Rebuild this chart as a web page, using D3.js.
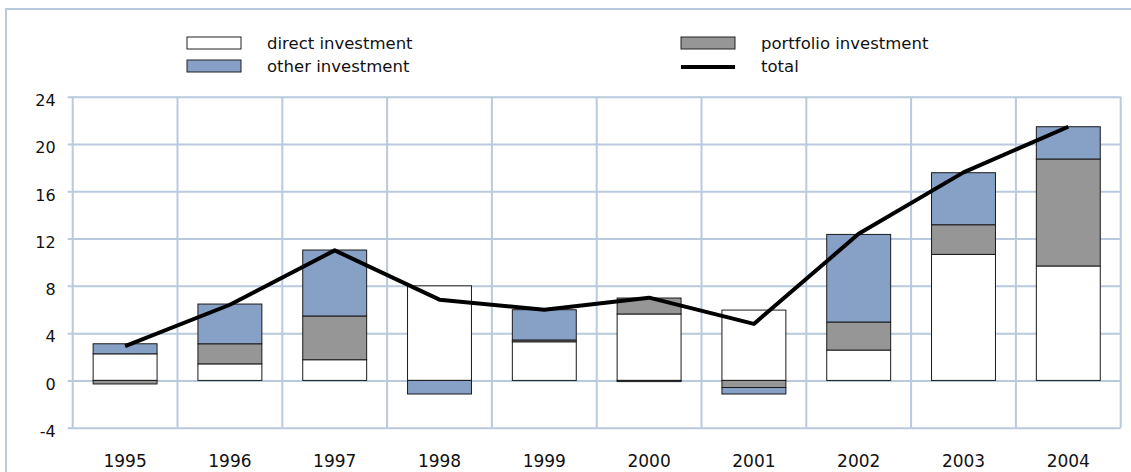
<!DOCTYPE html>
<html>
<head>
<meta charset="utf-8">
<script src="https://cdn.jsdelivr.net/npm/d3@7"></script>
<style>
  body { margin: 0; background: #fff; }
  text { font-family: "DejaVu Sans", sans-serif; fill: #111; }
</style>
</head>
<body>
<div class="canva"></div>
<script>
// data
const years = ['1995','1996','1997','1998','1999','2000','2001','2002','2003','2004'];
const direct    = [2.25, 1.4, 1.75, 8.0, 3.27, 5.62, 5.95, 2.57, 10.66, 9.68];
const portfolio = [-0.3, 1.7, 3.7, 0, 0.15, 1.35, -0.6, 2.37, 2.51, 9.05];
const other     = [0.85, 3.36, 5.58, -1.15, 2.56, -0.1, -0.55, 7.41, 4.4, 2.73];
const total     = [2.9, 6.4, 11.0, 6.83, 5.97, 7.0, 4.78, 12.4, 17.6, 21.46];
const yTicks = [-4, 0, 4, 8, 12, 16, 20, 24];

const keys = ['direct', 'portfolio', 'other'];
const colors = { direct: '#ffffff', portfolio: '#969696', other: '#86a0c6' };
const gridColor = '#b9c9de';

const canvas = d3.select('.canva');
const svg = canvas.append('svg')
      .attr('width', 1131)
      .attr('height', 472);

// outer frame (top + left)
svg.append('path')
   .attr('d', 'M6,472 V9 H1131')
   .attr('fill', 'none')
   .attr('stroke', gridColor)
   .attr('stroke-width', 2);

const margin = { top: 96.7, left: 72.7, right: 10.3, bottom: 45 };
const graphWidth = 1131 - margin.left - margin.right;

const graph = svg.append('g')
      .attr('transform', `translate(${margin.left}, ${margin.top})`);

const y = d3.scaleLinear()
      .domain([-4, 24])
      .range([331, 0]);

const x = d3.scaleBand()
      .domain(years)
      .range([0, graphWidth])
      .paddingInner(0.39)
      .paddingOuter(0.195);

const xGrid = d3.scaleBand().domain(years).range([0, graphWidth]);

// horizontal grid + y labels
const yAxis = d3.axisLeft(y)
      .tickValues(yTicks)
      .tickFormat(d => String(d))
      .tickSize(-graphWidth - 5)
      .tickSizeOuter(0);
const yAxisGroup = graph.append('g')
      .attr('transform', 'translate(-5,0)')
      .call(yAxis);
yAxisGroup.select('.domain').remove();
yAxisGroup.selectAll('line')
      .attr('stroke', gridColor)
      .attr('stroke-width', 2);
yAxisGroup.selectAll('text')
      .attr('x', -12)
      .attr('dy', '0.55em')
      .style('font-size', '16px');

// vertical grid lines
graph.selectAll('.vgrid')
     .data(years.concat(['end']))
     .enter().append('line')
     .attr('x1', (d, i) => i * xGrid.step())
     .attr('x2', (d, i) => i * xGrid.step())
     .attr('y1', y(24))
     .attr('y2', y(-4))
     .attr('stroke', gridColor)
     .attr('stroke-width', 2);

// x labels
const xAxis = d3.axisBottom(x).tickSize(0);
const xAxisGroup = graph.append('g')
      .attr('transform', `translate(0, ${y(-4)})`)
      .call(xAxis);
xAxisGroup.select('.domain').remove();
xAxisGroup.selectAll('text')
      .attr('y', 27)
      .style('font-size', '17px');

// stacked bars
const table = years.map((yr, i) => ({
  year: yr, direct: direct[i], portfolio: portfolio[i], other: other[i]
}));
const series = d3.stack()
      .keys(keys)
      .offset(d3.stackOffsetDiverging)(table);

series.forEach(s => {
  graph.append('g')
    .selectAll('rect')
    .data(s.filter(d => d[1] !== d[0]))
    .enter().append('rect')
    .attr('x', d => x(d.data.year))
    .attr('width', x.bandwidth())
    .attr('y', d => y(Math.max(d[0], d[1])))
    .attr('height', d => Math.abs(y(d[0]) - y(d[1])))
    .attr('fill', colors[s.key])
    .attr('stroke', '#1a1a1a')
    .attr('stroke-width', 1);
});

// total line
const line = d3.line()
      .x((d, i) => x(years[i]) + x.bandwidth() / 2)
      .y(d => y(d));
graph.append('path')
     .datum(total)
     .attr('d', line)
     .attr('fill', 'none')
     .attr('stroke', '#000')
     .attr('stroke-width', 4)
     .attr('stroke-linejoin', 'round');

// legend
const legendItems = [
  { label: 'direct investment', type: 'rect', fill: colors.direct, x: 187, y: 37 },
  { label: 'other investment', type: 'rect', fill: colors.other, x: 187, y: 60 },
  { label: 'portfolio investment', type: 'rect', fill: colors.portfolio, x: 681, y: 37 },
  { label: 'total', type: 'line', x: 681, y: 60 }
];
const legend = svg.append('g');
legendItems.forEach(it => {
  if (it.type === 'rect') {
    legend.append('rect')
      .attr('x', it.x).attr('y', it.y)
      .attr('width', 54).attr('height', 12)
      .attr('fill', it.fill)
      .attr('stroke', '#222')
      .attr('stroke-width', 1);
  } else {
    legend.append('line')
      .attr('x1', it.x).attr('x2', it.x + 54)
      .attr('y1', it.y + 7).attr('y2', it.y + 7)
      .attr('stroke', '#000')
      .attr('stroke-width', 4);
  }
  legend.append('text')
    .attr('x', it.x + 80)
    .attr('y', it.y + 12)
    .style('font-size', '16.5px')
    .text(it.label);
});
</script>
</body>
</html>
